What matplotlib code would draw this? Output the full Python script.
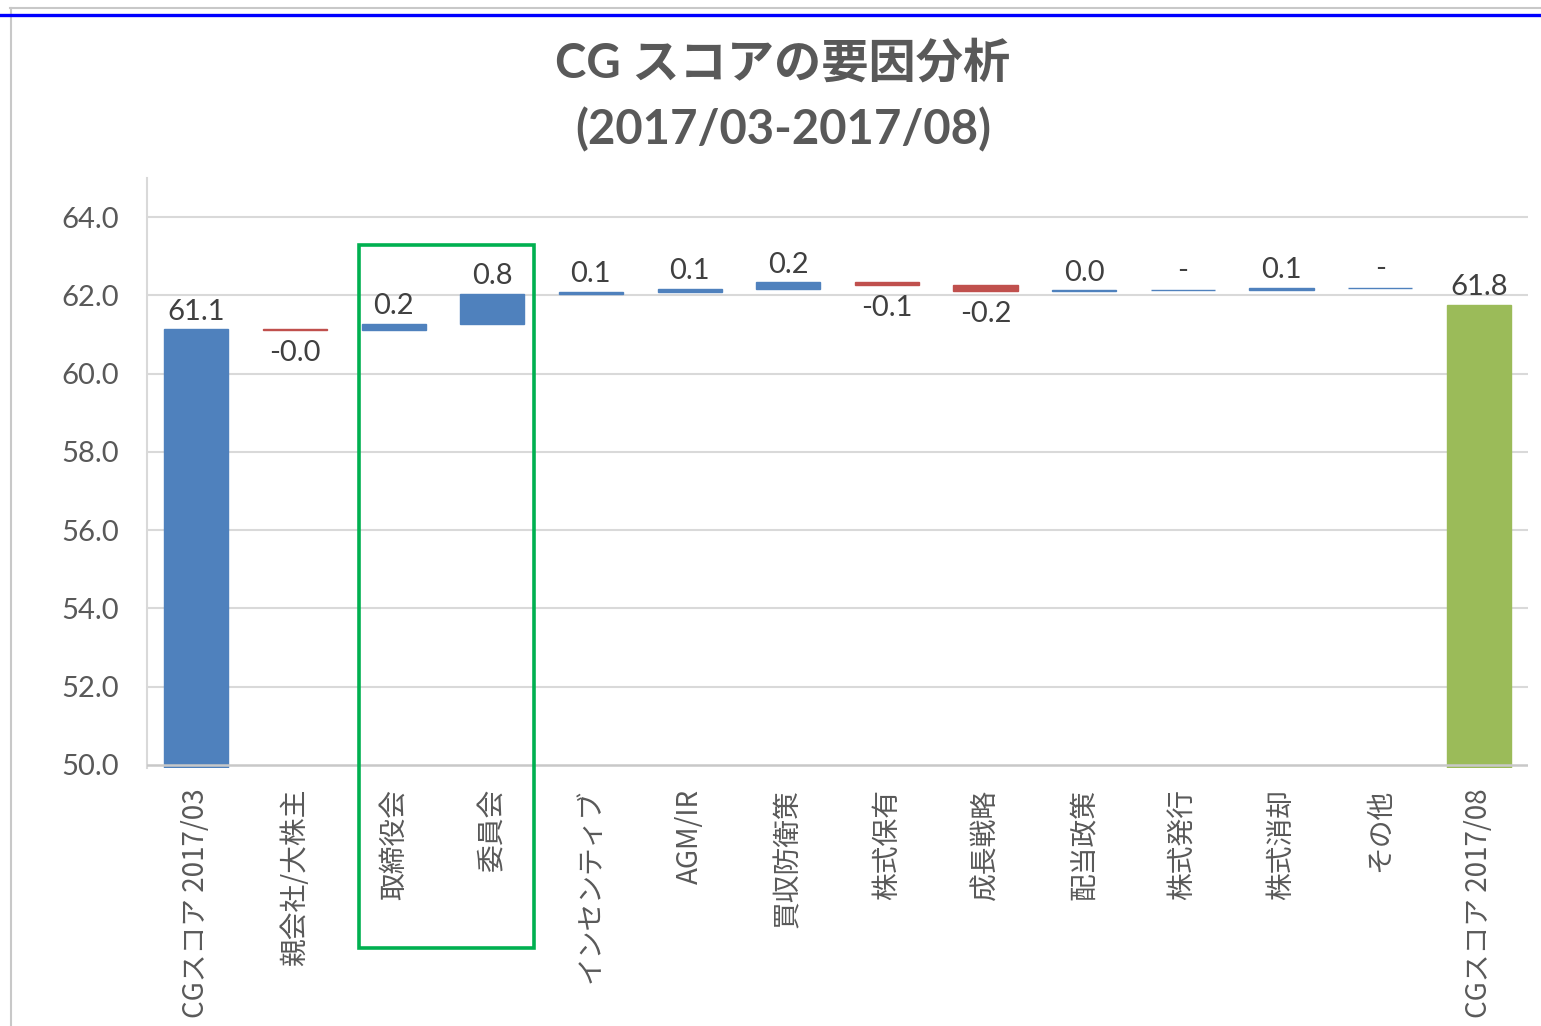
import numpy as np
import matplotlib
matplotlib.use("Agg")
import matplotlib.pyplot as plt
from matplotlib.lines import Line2D
from matplotlib.patches import Rectangle

plt.rcParams['font.family'] = ['Lato', 'Noto Sans CJK JP', 'DejaVu Sans']

# Score at the start / end and the change from each factor
categories = ["CGスコア 2017/03", "親会社/大株主", "取締役会", "委員会", "インセンティブ",
              "AGM/IR", "買収防衛策", "株式保有", "成長戦略", "配当政策",
              "株式発行", "株式消却", "その他", "CGスコア 2017/08"]
score_start = 61.13
score_end = 61.75
deltas = [-0.02, 0.16, 0.76, 0.06, 0.08, 0.16, -0.06, -0.16, 0.02, 0.0, 0.06, 0.0]

BLUE = "#4F81BD"
RED = "#C0504D"
GREEN = "#9BBB59"
TEXT = "#595959"
GRID = "#D9D9D9"

fig = plt.figure(figsize=(15.41, 10.26), dpi=100)
ax = fig.add_axes([0.0954, 0.2515, 0.8962, 0.575])

ymin, ymax = 49.92, 65.0
x = np.arange(len(categories))
w = 0.65

# running totals for the floating bars
levels = score_start + np.concatenate([[0], np.cumsum(deltas)])
bottoms = [ymin]
heights = [score_start - ymin]
colors = [BLUE]
for i, d in enumerate(deltas):
    lo = min(levels[i], levels[i + 1])
    bottoms.append(lo)
    heights.append(abs(d))
    colors.append(RED if d < 0 else BLUE)
bottoms.append(ymin)
heights.append(score_end - ymin)
colors.append(GREEN)

ax.bar(x, heights, w, bottom=bottoms, color=colors, edgecolor=colors,
       linewidth=1.0, zorder=2)

# value labels
lab_font = dict(fontsize=21, color="#404040", ha="center")
ax.annotate(f"{score_start:.1f}", (x[0], score_start), xytext=(0, 7),
            textcoords="offset points", va="baseline", **lab_font)
for i, d in enumerate(deltas):
    xi = x[i + 1]
    top = max(levels[i], levels[i + 1])
    lo = min(levels[i], levels[i + 1])
    if d == 0:
        ax.annotate("-", (xi, top), xytext=(0, 8), textcoords="offset points",
                    va="baseline", **lab_font)
    elif d > 0:
        ax.annotate(f"{d:.1f}", (xi, top), xytext=(0, 7), textcoords="offset points",
                    va="baseline", **lab_font)
    else:
        ax.annotate(f"{d:.1f}", (xi, lo), xytext=(0, -7), textcoords="offset points",
                    va="top", **lab_font)
ax.annotate(f"{score_end:.1f}", (x[-1], score_end), xytext=(0, 7),
            textcoords="offset points", va="baseline", **lab_font)

ax.set_xlim(-0.5, len(categories) - 0.5)
ax.set_ylim(ymin, ymax)
yt = np.arange(50, 65, 2)
ax.set_yticks(yt)
ax.set_yticklabels([f"{v:.1f}" for v in yt], fontsize=21, color=TEXT)
for v in yt[1:]:
    ax.axhline(v, color=GRID, lw=1.5, zorder=1)
ax.axhline(50, color="#C8C8C8", lw=1.8, zorder=3)

ax.set_xticks(x)
ax.set_xticklabels(categories, rotation=90, fontsize=20, color=TEXT,
                   family=['Noto Sans CJK JP', 'DejaVu Sans'], va="top", ha="center")
ax.tick_params(axis="both", length=0)
ax.tick_params(axis="y", pad=20)
ax.tick_params(axis="x", pad=15)

for s in ["top", "right", "bottom"]:
    ax.spines[s].set_visible(False)
ax.spines["left"].set_color(GRID)
ax.spines["left"].set_linewidth(1.5)

# highlight box around the board related factors
box = Rectangle((1.65, 45.32), 1.77, 63.29 - 45.32, fill=False,
                edgecolor="#00B050", linewidth=2.6, clip_on=False, zorder=4)
ax.add_patch(box)

# title
fig.text(0.508, 1 - 63 / 1026, "CG スコアの要因分析", ha="center", va="center",
         fontsize=34, fontweight="bold", color=TEXT)
fig.text(0.508, 1 - 130 / 1026, "(2017/03-2017/08)", ha="center", va="center",
         fontsize=34, fontweight="bold", color=TEXT)

# surrounding frame lines
fig.add_artist(Line2D([10 / 1541, 1], [1 - 7.5 / 1026] * 2, color="#C8C8C8", lw=1.5))
fig.add_artist(Line2D([10.5 / 1541] * 2, [0, 1 - 7.5 / 1026], color="#C8C8C8", lw=1.5))
fig.add_artist(Line2D([0, 1], [1 - 15 / 1026] * 2, color="#0000FF", lw=2.4))

fig.savefig("out.png", dpi=100, facecolor="white")
